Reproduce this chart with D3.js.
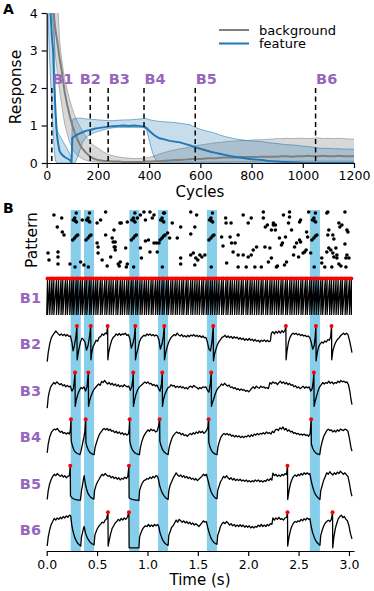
<!DOCTYPE html>
<html>
<head>
<meta charset="utf-8">
<script src="https://cdnjs.cloudflare.com/ajax/libs/d3/7.8.5/d3.min.js"></script>
<style>
body { margin: 0; background: #fff; }
svg text { font-family: "DejaVu Sans", sans-serif; }
</style>
</head>
<body>
<svg id="fig" width="374" height="591"></svg>
<script>
// ---- panel A data ----
const cycles = [0,10,20,25,30,35,40,45,50,55,60,65,70,80,90,97,100,105,110,120,130,140,150,160,170,180,190,200,220,240,260,280,300,320,340,360,380,390,400,410,420,430,440,460,480,500,520,540,560,580,600,620,640,660,680,700,720,740,760,780,800,820,840,860,880,900,920,940,960,980,1000,1020,1040,1060,1080,1100,1120,1140,1160,1180,1200];
const bgMean = [14,7.5,5,4.2,3.8,3.5,3.3,3.05,2.8,2.6,2.4,2.15,1.9,1.55,1.26,1.08,1.0,0.9,0.8,0.63,0.48,0.38,0.3,0.23,0.17,0.13,0.1,0.08,0.06,0.05,0.04,0.04,0.03,0.03,0.03,0.03,0.03,0.04,0.04,0.04,0.05,0.05,0.05,0.06,0.07,0.08,0.08,0.09,0.1,0.11,0.11,0.12,0.13,0.13,0.14,0.15,0.15,0.15,0.16,0.16,0.16,0.16,0.17,0.17,0.17,0.17,0.18,0.18,0.17,0.18,0.18,0.19,0.18,0.18,0.19,0.18,0.18,0.19,0.18,0.18,0.18];
const bgHi = [20,12,7,6,5.3,4.8,4.4,4.0,3.3,2.95,2.7,2.45,2.25,1.95,1.68,1.52,1.45,1.35,1.26,1.1,0.97,0.85,0.74,0.64,0.56,0.49,0.44,0.4,0.3,0.23,0.19,0.16,0.14,0.13,0.12,0.12,0.13,0.14,0.15,0.17,0.19,0.21,0.24,0.28,0.32,0.35,0.38,0.4,0.43,0.46,0.48,0.5,0.52,0.54,0.55,0.57,0.58,0.59,0.6,0.6,0.61,0.62,0.62,0.63,0.64,0.65,0.65,0.66,0.65,0.66,0.66,0.65,0.66,0.67,0.65,0.66,0.65,0.66,0.65,0.64,0.64];
const bgLo = [9,5.5,4.2,3.6,3.2,2.8,2.5,2.2,1.95,1.7,1.5,1.25,1.05,0.78,0.55,0.44,0.39,0.33,0.28,0.2,0.15,0.11,0.08,0.06,0.04,0.03,0.03,0.02,0.02,0.02,0.02,0.02,0.02,0.02,0.02,0.02,0.02,0.02,0.02,0.02,0.02,0.02,0.02,0.02,0.02,0.02,0.02,0.02,0.02,0.02,0.02,0.03,0.03,0.03,0.03,0.03,0.04,0.04,0.04,0.04,0.04,0.04,0.05,0.05,0.05,0.05,0.05,0.05,0.05,0.05,0.05,0.05,0.05,0.05,0.05,0.05,0.05,0.05,0.05,0.05,0.05];
const ftMean = [9,4.6,3.4,3.0,2.0,1.3,0.75,0.5,0.32,0.26,0.22,0.19,0.16,0.12,0.08,0.02,0.66,0.7,0.72,0.76,0.79,0.82,0.85,0.87,0.88,0.9,0.92,0.93,0.95,0.97,0.98,0.99,1.0,0.99,1.0,0.99,0.97,0.93,0.86,0.8,0.74,0.7,0.66,0.63,0.59,0.57,0.55,0.51,0.47,0.42,0.38,0.34,0.3,0.27,0.24,0.21,0.18,0.16,0.14,0.12,0.1,0.09,0.08,0.06,0.05,0.04,0.03,0.03,0.02,0.02,0.01,0.01,0.01,0.01,0.01,0.01,0.01,0.01,0.01,0.01,0.01];
const ftHi = [14,9,6,5,3.2,0.95,0.86,0.8,0.74,0.68,0.62,0.56,0.5,0.38,0.24,0.12,1.15,1.17,1.18,1.19,1.2,1.19,1.18,1.17,1.17,1.16,1.16,1.15,1.14,1.13,1.13,1.14,1.15,1.15,1.16,1.17,1.19,1.18,1.16,1.14,1.13,1.12,1.11,1.1,1.09,1.08,1.06,1.04,1.02,0.95,0.9,0.86,0.83,0.79,0.74,0.7,0.67,0.64,0.62,0.6,0.59,0.58,0.57,0.55,0.53,0.52,0.5,0.49,0.48,0.47,0.45,0.44,0.42,0.4,0.39,0.39,0.38,0.38,0.37,0.37,0.37];
const ftLo = [5,3.0,1.5,0.8,0.3,0.05,0,0,0,0,0,0,0,0,0,0,0,0,0,0.15,0.35,0.55,0.65,0.72,0.76,0.79,0.82,0.84,0.88,0.92,0.94,0.95,0.95,0.95,0.95,0.95,0.94,0.88,0.62,0.35,0.15,0.06,0.03,0.02,0.02,0.02,0.02,0.02,0.02,0.02,0.02,0.01,0.01,0.01,0.01,0.01,0.01,0.01,0.01,0.01,0.01,0.01,0.01,0.01,0.01,0.01,0.01,0.01,0.01,0.01,0.01,0.01,0.01,0.01,0.01,0.01,0.01,0.01,0.01,0.01,0.01];
const markCycles = [20,170,240,380,580,1050];
const markNames = ["B1","B2","B3","B4","B5","B6"];
const cycleTicks = [0,200,400,600,800,1000,1200];
const respTicks = [0,1,2,3,4];

// ---- panel B data ----
const timeTicks = [0,0.5,1,1.5,2,2.5,3];
const patternStarts = [0.238,0.37,0.82,1.105,1.59,2.612];
const patternLen = 0.1;
// dots of the hidden pattern, time offset from its start and afferent index
const patternDots = [[0.02,27],[0.04,29],[0.056,31],[0.07,32],[0.026,47],[0.04,49],[0.047,46],[0.057,45],[0.055,54],[0.043,0]];
// other afferent spikes (time s, afferent index)
const noiseDots = [[0.072,52],[0.149,49],[0.105,40],[0.155,35],[0.172,32],[0.013,14],[0.112,15],[0.112,10],[0.023,7],[0.112,3],[0.231,3],
  [0.353,47],[0.337,5],[0.37,2],[0.5,44],[0.535,47],[0.5,24],[0.51,20],[0.51,14],[0.55,7],[0.585,55],[0.585,32],[0.6,1],[0.635,10],
  [0.65,29],[0.66,25],[0.67,20],[0.68,20],[0.68,25],[0.68,17],[0.668,37],[0.71,3],[0.72,1],[0.73,5],[0.727,44],[0.74,44],[0.784,19],
  [0.79,0],[0.8,3],[0.8,45],[0.9,49],[0.93,52],[0.965,55],[0.98,47],[0.93,19],[0.94,9],[0.98,26],[1.01,27],[1.025,55],[1.025,15],
  [1.048,49],[1.065,52],[1.065,24],[1.097,15],[1.09,24],[1.114,24],[1.17,54],[1.2,34],[1.22,29],[1.246,44],[1.296,29],[1.33,40],
  [1.33,9],[1.33,3],[1.43,33],[1.43,55],[1.43,12],[1.455,14],[1.48,9],[1.5,7],[1.488,52],[1.47,40],[1.52,12],[1.54,10],[1.57,12],
  [1.47,2],[1.736,30],[1.75,21],[1.776,49],[1.78,44],[1.786,4],[1.82,30],[1.83,44],[1.835,24],[1.85,15],[1.87,24],[1.9,12],[1.9,32],
  [1.9,0],[1.95,52],[1.95,12],[1.98,0],[2.0,44],[2.0,10],[2.03,49],[2.03,12],[2.05,17],[2.066,0],[2.083,20],[2.13,0],[2.15,55],
  [2.15,49],[2.166,20],[2.17,40],[2.19,42],[2.2,5],[2.215,19],[2.23,9],[2.23,37],[2.27,37],[2.25,42],[2.27,42],[2.25,44],[2.28,0],
  [2.29,1],[2.31,29],[2.33,22],[2.34,24],[2.35,52],[2.37,30],[2.36,2],[2.38,5],[2.4,44],[2.41,55],[2.41,50],[2.43,37],[2.45,12],
  [2.46,20],[2.48,24],[2.5,10],[2.51,45],[2.52,47],[2.52,25],[2.51,27],[2.545,14],[2.56,15],[2.575,17],[2.58,35],[2.59,30],[2.6,55],
  [2.62,14],[2.73,4],[2.73,9],[2.76,0],[2.78,54],[2.79,55],[2.78,15],[2.79,32],[2.8,37],[2.8,19],[2.82,17],[2.83,0],[2.84,14],
  [2.84,32],[2.85,10],[2.85,28],[2.87,19],[2.88,12],[2.88,9],[2.9,44],[2.91,40],[2.93,42],[2.9,3],[2.92,1],[2.96,23],[2.96,55],
  [2.97,9],[2.97,0],[2.98,37],[2.99,35],[2.98,12],[3.0,9]];

const b1Spikes = [0.008,0.03,0.052,0.071,0.097,0.118,0.142,0.16,0.186,0.205,0.229,0.25,0.268,0.293,0.311,0.336,0.355,0.38,0.398,0.424,0.441,0.466,0.488,0.507,0.533,0.551,0.577,0.596,0.62,0.64,0.661,0.687,0.705,0.731,0.75,0.772,0.796,0.815,0.84,0.858,0.884,0.902,0.927,0.946,0.97,0.99,1.012,1.037,1.055,1.08,1.1,1.121,1.146,1.164,1.19,1.208,1.233,1.252,1.276,1.295,1.318,1.342,1.36,1.386,1.404,1.43,1.449,1.472,1.493,1.515,1.54,1.558,1.583,1.602,1.626,1.645,1.668,1.69,1.711,1.736,1.754,1.78,1.798,1.823,1.842,1.865,1.887,1.908,1.933,1.951,1.977,1.995,2.02,2.039,2.062,2.084,2.105,2.13,2.148,2.174,2.192,2.217,2.236,2.259,2.281,2.302,2.327,2.345,2.371,2.389,2.414,2.433,2.456,2.478,2.499,2.524,2.542,2.568,2.586,2.611,2.63,2.653,2.675,2.696,2.721,2.739,2.765,2.783,2.808,2.827,2.85,2.872,2.893,2.918,2.936,2.962,2.98,3.005,3.024];

const traceB2 = [[0.005,0.0],[0.015,0.25],[0.03,0.5],[0.045,0.66],[0.06,0.74],[0.075,0.8],[0.09,0.86],[0.1,0.83],[0.115,0.78],[0.13,0.74],[0.145,0.78],[0.16,0.73],[0.175,0.77],[0.19,0.72],[0.205,0.76],[0.22,0.71],[0.235,0.72],
  [0.25,0.55],[0.262,0.3],[0.275,0.45],[0.29,0.7],[0.3,1.0],[0.302,0.05],[0.31,0.2],[0.32,0.35],[0.335,0.55],[0.35,0.66],[0.365,0.62],
  [0.38,0.55],[0.395,0.32],[0.41,0.45],[0.425,0.7],[0.437,1.0],[0.439,0.05],[0.447,0.25],[0.46,0.42],[0.475,0.5],[0.49,0.6],[0.505,0.57],[0.52,0.68],[0.535,0.7],[0.55,0.78],[0.565,0.74],[0.58,0.8],[0.595,0.78],[0.605,1.0],[0.607,0.05],[0.615,0.25],[0.63,0.45],[0.645,0.6],[0.66,0.68],[0.675,0.72],[0.69,0.78],[0.705,0.74],[0.72,0.79],[0.735,0.74],[0.75,0.78],[0.765,0.76],[0.78,0.8],[0.795,0.74],[0.81,0.76],
  [0.825,0.65],[0.84,0.38],[0.855,0.5],[0.87,0.7],[0.879,1.0],[0.881,0.05],[0.89,0.2],[0.905,0.35],[0.92,0.55],[0.935,0.65],[0.95,0.7],[0.965,0.74],[0.98,0.72],[0.995,0.78],[1.01,0.74],[1.025,0.78],[1.04,0.73],[1.055,0.76],[1.07,0.72],[1.085,0.75],[1.1,0.72],
  [1.115,0.6],[1.128,0.35],[1.145,0.5],[1.158,0.72],[1.167,1.0],[1.169,0.05],[1.178,0.2],[1.19,0.35],[1.205,0.5],[1.22,0.6],[1.235,0.68],[1.25,0.72],[1.265,0.76],[1.28,0.73],[1.295,0.8],[1.31,0.75],[1.325,0.72],[1.34,0.76],[1.355,0.7],[1.37,0.73],[1.385,0.69],[1.4,0.74],[1.415,0.7],[1.43,0.75],[1.445,0.72],[1.46,0.76],[1.475,0.71],[1.49,0.74],[1.505,0.7],[1.52,0.73],[1.535,0.68],[1.55,0.72],[1.565,0.67],[1.58,0.68],
  [1.595,0.55],[1.61,0.35],[1.625,0.3],[1.64,0.55],[1.653,1.0],[1.655,0.02],[1.665,0.2],[1.68,0.35],[1.695,0.48],[1.71,0.56],[1.725,0.62],[1.74,0.68],[1.755,0.7],[1.77,0.74],[1.785,0.68],[1.8,0.72],[1.815,0.67],[1.83,0.71],[1.845,0.65],[1.86,0.7],[1.875,0.66],[1.89,0.69],[1.905,0.63],[1.92,0.67],[1.935,0.62],[1.95,0.66],[1.965,0.6],[1.98,0.64],[1.995,0.6],[2.01,0.65],[2.025,0.6],[2.04,0.63],[2.055,0.58],[2.07,0.62],[2.085,0.57],[2.1,0.6],[2.115,0.55],[2.13,0.6],[2.145,0.57],[2.16,0.61],[2.175,0.56],[2.19,0.6],[2.205,0.56],[2.22,0.58],[2.23,0.8],[2.245,0.84],[2.26,0.78],[2.275,0.85],[2.29,0.8],[2.305,0.86],[2.32,0.8],[2.335,0.87],[2.35,0.82],[2.365,0.88],[2.374,1.0],[2.376,0.05],[2.385,0.3],[2.4,0.55],[2.415,0.68],[2.43,0.76],[2.445,0.8],[2.46,0.77],[2.475,0.8],[2.49,0.75],[2.505,0.78],[2.52,0.73],[2.535,0.76],[2.55,0.72],[2.565,0.74],[2.58,0.7],[2.595,0.72],[2.61,0.68],
  [2.625,0.55],[2.64,0.35],[2.655,0.45],[2.665,0.7],[2.672,1.0],[2.674,0.02],[2.685,0.25],[2.7,0.42],[2.715,0.5],[2.73,0.55],[2.745,0.52],[2.76,0.58],[2.775,0.55],[2.79,0.62],[2.805,0.6],[2.818,0.7],[2.827,1.0],[2.829,0.05],[2.84,0.3],[2.855,0.45],[2.87,0.55],[2.885,0.62],[2.9,0.66],[2.915,0.72],[2.93,0.76],[2.945,0.8],[2.96,0.76],[2.975,0.8],[2.99,0.76],[3.005,0.6],[3.02,0.4],[3.03,0.25]];
const traceB3 = [[0.005,0.0],[0.015,0.3],[0.025,0.45],[0.04,0.6],[0.055,0.66],[0.07,0.72],[0.085,0.68],[0.1,0.74],[0.115,0.7],[0.13,0.66],[0.145,0.69],[0.16,0.63],[0.175,0.66],[0.19,0.6],[0.205,0.64],[0.22,0.6],[0.235,0.62],
  [0.25,0.48],[0.265,0.55],[0.275,0.8],[0.281,1.0],[0.283,0.05],[0.295,0.25],[0.31,0.4],[0.325,0.5],[0.34,0.58],[0.355,0.55],[0.37,0.6],
  [0.385,0.48],[0.4,0.6],[0.413,1.0],[0.415,0.05],[0.425,0.2],[0.44,0.34],[0.455,0.45],[0.47,0.53],[0.485,0.58],[0.5,0.63],[0.515,0.68],[0.53,0.64],[0.545,0.75],[0.56,0.72],[0.575,0.78],[0.59,0.72],[0.605,0.68],[0.62,0.72],[0.635,0.66],[0.65,0.7],[0.665,0.64],[0.68,0.68],[0.695,0.62],[0.71,0.66],[0.725,0.6],[0.74,0.64],[0.755,0.6],[0.77,0.66],[0.785,0.62],[0.8,0.6],[0.815,0.62],
  [0.83,0.5],[0.845,0.62],[0.855,0.8],[0.859,1.0],[0.861,0.05],[0.872,0.22],[0.885,0.38],[0.9,0.5],[0.915,0.58],[0.93,0.62],[0.945,0.66],[0.96,0.7],[0.975,0.74],[0.99,0.7],[1.005,0.74],[1.02,0.68],[1.035,0.7],[1.05,0.64],[1.065,0.67],[1.08,0.62],[1.095,0.65],
  [1.11,0.55],[1.125,0.48],[1.14,0.7],[1.147,1.0],[1.149,0.05],[1.16,0.25],[1.175,0.4],[1.19,0.5],[1.205,0.58],[1.22,0.6],[1.235,0.66],[1.25,0.62],[1.265,0.64],[1.28,0.58],[1.295,0.62],[1.31,0.58],[1.325,0.62],[1.34,0.57],[1.355,0.6],[1.37,0.55],[1.385,0.58],[1.4,0.54],[1.415,0.6],[1.43,0.62],[1.445,0.58],[1.46,0.64],[1.475,0.6],[1.49,0.58],[1.505,0.54],[1.52,0.58],[1.535,0.55],[1.55,0.6],[1.565,0.58],[1.58,0.6],
  [1.595,0.5],[1.61,0.45],[1.625,0.7],[1.633,1.0],[1.635,0.05],[1.645,0.15],[1.66,0.28],[1.675,0.42],[1.69,0.52],[1.705,0.58],[1.72,0.62],[1.735,0.68],[1.75,0.64],[1.765,0.7],[1.78,0.66],[1.795,0.62],[1.81,0.65],[1.825,0.58],[1.84,0.6],[1.855,0.55],[1.87,0.58],[1.885,0.52],[1.9,0.55],[1.915,0.5],[1.93,0.54],[1.945,0.5],[1.96,0.52],[1.975,0.47],[1.99,0.5],[2.005,0.46],[2.02,0.5],[2.035,0.56],[2.05,0.6],[2.065,0.55],[2.08,0.62],[2.095,0.58],[2.11,0.56],[2.125,0.62],[2.14,0.58],[2.155,0.6],[2.17,0.56],[2.185,0.58],[2.2,0.55],[2.215,0.72],[2.23,0.68],[2.245,0.74],[2.26,0.7],[2.275,0.72],[2.29,0.66],[2.305,0.72],[2.32,0.76],[2.335,0.7],[2.35,0.74],[2.365,0.68],[2.38,0.72],[2.395,0.66],[2.41,0.7],[2.425,0.64],[2.44,0.66],[2.455,0.6],[2.47,0.63],[2.485,0.57],[2.5,0.6],[2.515,0.55],[2.53,0.58],[2.545,0.62],[2.56,0.56],[2.575,0.6],[2.59,0.57],[2.605,0.6],
  [2.62,0.48],[2.635,0.55],[2.645,0.75],[2.652,1.0],[2.654,0.05],[2.665,0.2],[2.68,0.35],[2.695,0.5],[2.71,0.6],[2.725,0.66],[2.74,0.72],[2.755,0.68],[2.77,0.72],[2.785,0.7],[2.8,0.76],[2.815,0.7],[2.83,0.74],[2.845,0.68],[2.86,0.72],[2.875,0.7],[2.89,0.76],[2.905,0.72],[2.92,0.78],[2.935,0.74],[2.95,0.76],[2.965,0.72],[2.98,0.74],[2.995,0.66],[3.01,0.45],[3.02,0.25],[3.03,0.1]];
const traceB4 = [[0.005,0.05],[0.015,0.3],[0.03,0.5],[0.045,0.62],[0.06,0.68],[0.075,0.72],[0.09,0.7],[0.105,0.74],[0.12,0.68],[0.135,0.63],[0.15,0.66],[0.165,0.6],[0.18,0.62],[0.195,0.58],[0.21,0.62],[0.225,0.58],[0.235,0.7],[0.241,1.0],
  [0.243,0.4],[0.255,0.25],[0.27,0.13],[0.285,0.07],[0.3,0.04],[0.315,0.02],[0.33,0.0],[0.34,0.1],[0.355,0.3],[0.37,0.5],[0.38,0.68],[0.387,1.0],[0.389,0.35],[0.4,0.22],[0.415,0.12],[0.43,0.06],[0.445,0.03],[0.46,0.01],[0.47,0.0],[0.48,0.2],[0.495,0.35],[0.51,0.48],[0.525,0.58],[0.54,0.64],[0.555,0.7],[0.57,0.74],[0.585,0.7],[0.6,0.74],[0.615,0.68],[0.63,0.72],[0.645,0.66],[0.66,0.68],[0.675,0.62],[0.69,0.66],[0.705,0.6],[0.72,0.64],[0.735,0.58],[0.75,0.62],[0.765,0.56],[0.78,0.6],[0.795,0.55],[0.81,0.58],[0.818,0.7],[0.823,1.0],
  [0.825,0.38],[0.835,0.25],[0.85,0.14],[0.865,0.08],[0.88,0.04],[0.895,0.02],[0.91,0.01],[0.92,0.0],[0.93,0.2],[0.945,0.38],[0.96,0.5],[0.975,0.58],[0.99,0.64],[1.005,0.7],[1.02,0.66],[1.035,0.72],[1.05,0.68],[1.065,0.7],[1.08,0.64],[1.095,0.66],[1.11,0.8],[1.121,1.0],
  [1.123,0.38],[1.135,0.25],[1.15,0.14],[1.165,0.08],[1.18,0.04],[1.195,0.02],[1.205,0.0],[1.215,0.2],[1.23,0.35],[1.245,0.48],[1.26,0.55],[1.275,0.6],[1.29,0.64],[1.305,0.6],[1.32,0.62],[1.335,0.56],[1.35,0.6],[1.365,0.54],[1.38,0.56],[1.395,0.52],[1.41,0.56],[1.425,0.6],[1.44,0.56],[1.455,0.62],[1.47,0.58],[1.485,0.64],[1.5,0.6],[1.515,0.66],[1.53,0.62],[1.545,0.66],[1.56,0.6],[1.575,0.64],[1.59,0.7],[1.6,0.78],[1.607,1.0],
  [1.609,0.35],[1.62,0.22],[1.635,0.12],[1.65,0.06],[1.665,0.03],[1.68,0.01],[1.69,0.0],[1.7,0.22],[1.715,0.38],[1.73,0.5],[1.745,0.56],[1.76,0.6],[1.775,0.56],[1.79,0.6],[1.805,0.55],[1.82,0.58],[1.835,0.52],[1.85,0.55],[1.865,0.5],[1.88,0.54],[1.895,0.5],[1.91,0.53],[1.925,0.48],[1.94,0.52],[1.955,0.48],[1.97,0.52],[1.985,0.5],[2.0,0.55],[2.015,0.5],[2.03,0.56],[2.045,0.52],[2.06,0.58],[2.075,0.55],[2.09,0.6],[2.105,0.56],[2.12,0.6],[2.135,0.58],[2.15,0.62],[2.165,0.58],[2.18,0.64],[2.195,0.6],[2.21,0.62],[2.225,0.58],[2.24,0.66],[2.255,0.62],[2.27,0.7],[2.285,0.72],[2.3,0.68],[2.315,0.76],[2.33,0.72],[2.345,0.78],[2.36,0.7],[2.375,0.74],[2.39,0.66],[2.405,0.7],[2.42,0.64],[2.435,0.66],[2.45,0.6],[2.465,0.62],[2.48,0.58],[2.495,0.6],[2.51,0.56],[2.525,0.58],[2.54,0.55],[2.555,0.58],[2.57,0.54],[2.585,0.56],[2.6,0.52],[2.615,0.6],[2.625,1.0],
  [2.627,0.3],[2.64,0.18],[2.655,0.1],[2.67,0.05],[2.685,0.02],[2.7,0.01],[2.71,0.0],[2.72,0.2],[2.735,0.38],[2.75,0.52],[2.765,0.6],[2.78,0.68],[2.795,0.72],[2.81,0.68],[2.825,0.7],[2.84,0.64],[2.855,0.68],[2.87,0.64],[2.885,0.7],[2.9,0.66],[2.915,0.72],[2.93,0.7],[2.945,0.68],[2.96,0.72],[2.975,0.7],[2.99,0.66],[3.005,0.45],[3.02,0.2],[3.03,0.1]];
const traceB5 = [[0.005,0.05],[0.015,0.3],[0.03,0.5],[0.045,0.62],[0.06,0.7],[0.075,0.76],[0.09,0.72],[0.105,0.78],[0.12,0.74],[0.135,0.7],[0.15,0.74],[0.165,0.68],[0.18,0.72],[0.195,0.66],[0.21,0.7],[0.225,0.72],[0.234,1.0],
  [0.236,0.15],[0.25,0.1],[0.265,0.07],[0.28,0.05],[0.3,0.04],[0.32,0.03],[0.335,0.03],[0.345,0.3],[0.355,0.45],[0.365,0.62],[0.372,0.72],[0.38,0.55],[0.39,0.4],[0.4,0.3],[0.41,0.22],[0.425,0.15],[0.44,0.1],[0.455,0.08],[0.468,0.06],[0.475,0.3],[0.49,0.45],[0.505,0.55],[0.52,0.62],[0.535,0.7],[0.55,0.76],[0.565,0.72],[0.58,0.78],[0.595,0.74],[0.61,0.7],[0.625,0.72],[0.64,0.66],[0.655,0.7],[0.67,0.64],[0.685,0.68],[0.7,0.62],[0.715,0.66],[0.73,0.6],[0.745,0.65],[0.76,0.62],[0.775,0.68],[0.79,0.64],[0.805,0.7],[0.816,1.0],
  [0.818,0.1],[0.83,0.07],[0.85,0.05],[0.87,0.04],[0.89,0.03],[0.905,0.03],[0.915,0.02],[0.922,0.3],[0.935,0.42],[0.95,0.52],[0.965,0.58],[0.98,0.6],[0.995,0.64],[1.01,0.62],[1.025,0.68],[1.04,0.64],[1.055,0.7],[1.07,0.66],[1.085,0.72],[1.1,0.7],[1.11,0.6],[1.12,0.45],[1.135,0.32],[1.15,0.22],[1.165,0.15],[1.18,0.1],[1.195,0.07],[1.205,0.05],[1.212,0.3],[1.225,0.45],[1.24,0.55],[1.255,0.65],[1.27,0.72],[1.285,0.8],[1.3,0.74],[1.315,0.7],[1.33,0.74],[1.345,0.68],[1.36,0.72],[1.375,0.66],[1.39,0.7],[1.405,0.64],[1.42,0.68],[1.435,0.62],[1.45,0.65],[1.465,0.6],[1.48,0.64],[1.495,0.58],[1.51,0.62],[1.525,0.66],[1.54,0.7],[1.555,0.76],[1.57,0.72],[1.585,0.76],
  [1.6,0.6],[1.615,0.42],[1.63,0.28],[1.645,0.19],[1.66,0.13],[1.675,0.09],[1.69,0.07],[1.697,0.3],[1.71,0.42],[1.725,0.55],[1.74,0.62],[1.755,0.7],[1.77,0.66],[1.785,0.72],[1.8,0.66],[1.815,0.62],[1.83,0.66],[1.845,0.6],[1.86,0.64],[1.875,0.58],[1.89,0.62],[1.905,0.58],[1.92,0.62],[1.935,0.57],[1.95,0.6],[1.965,0.56],[1.98,0.6],[1.995,0.55],[2.01,0.58],[2.025,0.54],[2.04,0.58],[2.055,0.55],[2.07,0.6],[2.085,0.56],[2.1,0.6],[2.115,0.55],[2.13,0.58],[2.145,0.54],[2.16,0.58],[2.175,0.56],[2.19,0.62],[2.205,0.58],[2.22,0.64],[2.235,0.6],[2.245,0.79],[2.26,0.72],[2.275,0.76],[2.29,0.7],[2.305,0.74],[2.32,0.7],[2.335,0.76],[2.35,0.72],[2.365,0.78],[2.38,0.75],[2.39,1.0],
  [2.392,0.05],[2.405,0.3],[2.42,0.5],[2.435,0.62],[2.45,0.7],[2.465,0.74],[2.48,0.7],[2.495,0.76],[2.51,0.72],[2.525,0.78],[2.54,0.74],[2.555,0.8],[2.57,0.76],[2.585,0.8],[2.6,0.76],[2.612,0.78],[2.625,0.58],[2.64,0.4],[2.655,0.27],[2.67,0.18],[2.685,0.12],[2.7,0.08],[2.712,0.05],[2.72,0.3],[2.735,0.45],[2.75,0.6],[2.765,0.7],[2.78,0.8],[2.795,0.76],[2.81,0.83],[2.825,0.78],[2.84,0.74],[2.855,0.8],[2.87,0.76],[2.885,0.82],[2.9,0.78],[2.915,0.85],[2.93,0.8],[2.945,0.76],[2.96,0.8],[2.975,0.74],[2.99,0.7],[3.005,0.5],[3.02,0.25],[3.03,0.14]];
const traceB6 = [[0.005,0.05],[0.015,0.3],[0.03,0.51],[0.045,0.66],[0.06,0.74],[0.075,0.83],[0.09,0.78],[0.105,0.84],[0.12,0.8],[0.135,0.86],[0.15,0.82],[0.165,0.88],[0.18,0.84],[0.195,0.9],[0.21,0.86],[0.225,0.92],[0.238,0.9],
  [0.25,0.62],[0.265,0.42],[0.28,0.28],[0.295,0.19],[0.31,0.12],[0.325,0.08],[0.338,0.05],[0.345,0.3],[0.355,0.42],[0.365,0.55],[0.372,0.6],[0.385,0.42],[0.4,0.3],[0.415,0.22],[0.43,0.16],[0.445,0.12],[0.46,0.1],[0.47,0.08],[0.478,0.35],[0.49,0.45],[0.505,0.55],[0.52,0.62],[0.535,0.66],[0.55,0.72],[0.565,0.7],[0.58,0.78],[0.595,0.82],[0.608,1.0],
  [0.61,0.05],[0.62,0.2],[0.635,0.4],[0.65,0.55],[0.665,0.62],[0.68,0.7],[0.695,0.74],[0.71,0.8],[0.725,0.76],[0.74,0.83],[0.755,0.78],[0.77,0.84],[0.785,0.8],[0.8,0.86],[0.816,1.0],[0.818,0.0],[0.84,0.0],[0.86,0.0],[0.88,0.0],[0.9,0.0],[0.915,0.0],[0.922,0.3],[0.935,0.42],[0.95,0.52],[0.965,0.58],[0.98,0.62],[0.995,0.6],[1.01,0.66],[1.025,0.6],[1.04,0.64],[1.055,0.6],[1.07,0.66],[1.085,0.62],[1.1,0.66],
  [1.112,0.6],[1.125,0.42],[1.14,0.3],[1.155,0.2],[1.17,0.14],[1.185,0.1],[1.205,0.07],[1.212,0.35],[1.225,0.45],[1.24,0.58],[1.255,0.62],[1.27,0.7],[1.285,0.78],[1.3,0.72],[1.315,0.8],[1.33,0.76],[1.345,0.72],[1.36,0.76],[1.375,0.7],[1.39,0.74],[1.405,0.68],[1.42,0.72],[1.435,0.66],[1.45,0.7],[1.465,0.64],[1.48,0.68],[1.495,0.64],[1.51,0.6],[1.525,0.65],[1.54,0.7],[1.555,0.76],[1.57,0.72],[1.585,0.74],
  [1.6,0.55],[1.615,0.4],[1.63,0.28],[1.645,0.2],[1.66,0.15],[1.675,0.12],[1.69,0.1],[1.697,0.35],[1.71,0.45],[1.725,0.6],[1.74,0.68],[1.755,0.72],[1.77,0.68],[1.785,0.74],[1.8,0.7],[1.815,0.64],[1.83,0.68],[1.845,0.62],[1.86,0.66],[1.875,0.6],[1.89,0.64],[1.905,0.6],[1.92,0.65],[1.935,0.6],[1.95,0.64],[1.965,0.58],[1.98,0.62],[1.995,0.58],[2.01,0.62],[2.025,0.56],[2.04,0.6],[2.055,0.56],[2.07,0.6],[2.085,0.58],[2.1,0.64],[2.115,0.6],[2.13,0.66],[2.145,0.6],[2.16,0.64],[2.175,0.6],[2.19,0.66],[2.205,0.62],[2.22,0.68],[2.235,0.66],[2.245,0.84],[2.26,0.78],[2.275,0.84],[2.29,0.8],[2.305,0.86],[2.32,0.8],[2.335,0.82],[2.35,0.78],[2.365,0.84],[2.38,0.86],[2.39,1.0],
  [2.392,0.05],[2.405,0.3],[2.42,0.5],[2.435,0.62],[2.45,0.7],[2.465,0.74],[2.48,0.72],[2.495,0.76],[2.51,0.74],[2.525,0.8],[2.54,0.76],[2.555,0.82],[2.57,0.78],[2.585,0.84],[2.6,0.8],[2.612,0.82],[2.625,0.6],[2.64,0.42],[2.655,0.3],[2.67,0.2],[2.685,0.14],[2.7,0.1],[2.712,0.07],[2.72,0.35],[2.735,0.5],[2.75,0.62],[2.765,0.7],[2.78,0.74],[2.795,0.78],[2.81,0.74],[2.825,0.8],[2.837,1.0],
  [2.839,0.0],[2.85,0.3],[2.865,0.55],[2.88,0.7],[2.895,0.83],[2.91,0.88],[2.925,0.92],[2.94,0.85],[2.955,0.88],[2.97,0.8],[2.985,0.76],[3.0,0.62],[3.015,0.4],[3.03,0.25]];
const spikesB2 = [0.3,0.437,0.605,0.879,1.167,1.653,2.374,2.672,2.827];
const spikesB3 = [0.281,0.413,0.859,1.147,1.633,2.652];
const spikesB4 = [0.241,0.387,0.823,1.121,1.607,2.625];
const spikesB5 = [0.234,0.816,2.39];
const spikesB6 = [0.608,0.816,2.39,2.837];

// ---- drawing ----
const purple = "#9467bd", blue = "#1f77b4", gray = "#7f7f7f";
const svg = d3.select("#fig");

// panel A
const xA = d3.scaleLinear().domain([0, 1200]).range([46.7, 354]);
const yA = d3.scaleLinear().domain([0, 4]).range([163, 13]);

svg.append("clipPath").attr("id", "clipA")
  .append("rect").attr("x", xA(0)).attr("y", yA(4))
  .attr("width", xA(1200) - xA(0)).attr("height", yA(0) - yA(4));

const gA = svg.append("g").attr("clip-path", "url(#clipA)");

function band(lo, hi) {
  return cycles.map((c, i) => [c, lo[i], hi[i]]);
}
const area = d3.area().x(d => xA(d[0])).y0(d => yA(d[1])).y1(d => yA(d[2]));
const lineA = d3.line().x(d => xA(d[0])).y(d => yA(d[1]));

[[bgLo, bgHi, gray, 0.3], [ftLo, ftHi, blue, 0.25]].forEach(([lo, hi, col, op]) => {
  gA.append("path").attr("d", area(band(lo, hi))).attr("fill", col).attr("fill-opacity", op);
  [lo, hi].forEach(s => {
    gA.append("path").attr("d", lineA(cycles.map((c, i) => [c, s[i]])))
      .attr("fill", "none").attr("stroke", col).attr("stroke-opacity", 0.55).attr("stroke-width", 1);
  });
});
gA.append("path").attr("d", lineA(cycles.map((c, i) => [c, bgMean[i]])))
  .attr("fill", "none").attr("stroke", gray).attr("stroke-width", 2);
gA.append("path").attr("d", lineA(cycles.map((c, i) => [c, ftMean[i]])))
  .attr("fill", "none").attr("stroke", blue).attr("stroke-width", 2);

// markers for the B rows
const markAnchor = ["start", "middle", "start", "start", "start", "start"];
markCycles.forEach((c, i) => {
  svg.append("line").attr("x1", xA(c)).attr("x2", xA(c))
    .attr("y1", yA(2)).attr("y2", yA(0))
    .attr("stroke", "#000").attr("stroke-width", 1.5).attr("stroke-dasharray", "5,3.5");
  svg.append("text").attr("x", xA(c) + (markAnchor[i] === "start" ? 0.5 : 0)).attr("y", 84)
    .attr("text-anchor", markAnchor[i]).attr("font-size", 14.5).attr("font-weight", "bold")
    .attr("fill", purple).text(markNames[i]);
});

function styleAxis(g) {
  g.selectAll("path, line").attr("stroke", "#000").attr("stroke-width", 1.2);
  g.selectAll("text").attr("font-size", 12.5).attr("fill", "#000")
    .attr("font-family", "DejaVu Sans, sans-serif");
}
svg.append("g").attr("transform", `translate(0,${yA(0)})`)
  .call(d3.axisBottom(xA).tickValues(cycleTicks).tickFormat(d3.format("d"))
    .tickSize(5).tickSizeOuter(0).tickPadding(3.5))
  .call(styleAxis);
svg.append("g").attr("transform", `translate(${xA(0)},0)`)
  .call(d3.axisLeft(yA).tickValues(respTicks).tickFormat(d3.format("d"))
    .tickSize(5).tickSizeOuter(0).tickPadding(4))
  .call(styleAxis);

svg.append("text").attr("x", 200).attr("y", 197).attr("text-anchor", "middle")
  .attr("font-size", 15).text("Cycles");
svg.append("text").attr("transform", "translate(21,87) rotate(-90)").attr("text-anchor", "middle")
  .attr("font-size", 15.5).text("Response");

// legend
const legend = svg.append("g");
[["background", gray, 30], ["feature", blue, 43.5]].forEach(([name, col, y]) => {
  legend.append("line").attr("x1", 219).attr("x2", 249).attr("y1", y).attr("y2", y)
    .attr("stroke", col).attr("stroke-width", 2);
  legend.append("text").attr("x", 259).attr("y", y + 4.6).attr("font-size", 13).text(name);
});

svg.append("text").attr("x", 3).attr("y", 14).attr("font-size", 14).attr("font-weight", "bold").text("A");
svg.append("text").attr("x", 3).attr("y", 213).attr("font-size", 14).attr("font-weight", "bold").text("B");

// panel B
const xB = d3.scaleLinear().domain([0, 3.05]).range([46.7, 354]);
const axisY = 551;
const yR = d3.scaleLinear().domain([0, 55]).range([267, 212]);
const rowNames = ["B1", "B2", "B3", "B4", "B5", "B6"];
const rowTop = d3.scalePoint().domain(rowNames).range([279.5, 512.3]);
const rowH = 35.5;
const vY = (row, v) => rowTop(row) + (1 - v) * rowH;

svg.append("g").selectAll("rect").data(patternStarts).join("rect")
  .attr("x", d => xB(d)).attr("width", d => xB(d + patternLen) - xB(d))
  .attr("y", 210).attr("height", axisY - 210).attr("fill", "#87ceeb");

const allDots = noiseDots.concat(patternStarts.flatMap(s => patternDots.map(p => [s + p[0], p[1]])));
svg.append("g").selectAll("circle").data(allDots).join("circle")
  .attr("cx", d => xB(d[0])).attr("cy", d => yR(d[1])).attr("r", 1.8).attr("fill", "#000");

svg.append("text").attr("transform", "translate(37,240) rotate(-90)").attr("text-anchor", "middle")
  .attr("font-size", 15.5).text("Pattern");

// B1 spike train drawn as a sawtooth between reset and threshold
const b1Pts = b1Spikes.flatMap(t => [[t, 1], [t, 0]]);
b1Pts.unshift([0, 0]);
const lineB = row => d3.line().x(d => xB(d[0])).y(d => vY(row, d[1]));
svg.append("path").attr("d", lineB("B1")(b1Pts)).attr("fill", "none")
  .attr("stroke", "#000").attr("stroke-width", 1.25);
svg.append("g").selectAll("circle").data(b1Spikes).join("circle")
  .attr("cx", d => xB(d)).attr("cy", vY("B1", 1) - 1).attr("r", 2).attr("fill", "red");

const rowTraces = [["B2", traceB2, spikesB2], ["B3", traceB3, spikesB3], ["B4", traceB4, spikesB4],
  ["B5", traceB5, spikesB5], ["B6", traceB6, spikesB6]];
rowTraces.forEach(([row, tr, sp]) => {
  svg.append("path").attr("d", lineB(row)(tr)).attr("fill", "none")
    .attr("stroke", "#000").attr("stroke-width", 1.3).attr("stroke-linejoin", "round");
  svg.append("g").selectAll("circle").data(sp).join("circle")
    .attr("cx", d => xB(d)).attr("cy", vY(row, 1)).attr("r", 2).attr("fill", "red");
});

rowNames.forEach(row => {
  svg.append("text").attr("x", 41).attr("y", rowTop(row) + 23).attr("text-anchor", "end")
    .attr("font-size", 14.5).attr("font-weight", "bold").attr("fill", purple).text(row);
});

svg.append("g").attr("transform", `translate(0,${axisY})`)
  .call(d3.axisBottom(xB).tickValues(timeTicks).tickFormat(d3.format(".1f"))
    .tickSize(5).tickSizeOuter(0).tickPadding(4))
  .call(styleAxis);
svg.append("text").attr("x", 200).attr("y", 585).attr("text-anchor", "middle")
  .attr("font-size", 15).text("Time (s)");
</script>
</body>
</html>
